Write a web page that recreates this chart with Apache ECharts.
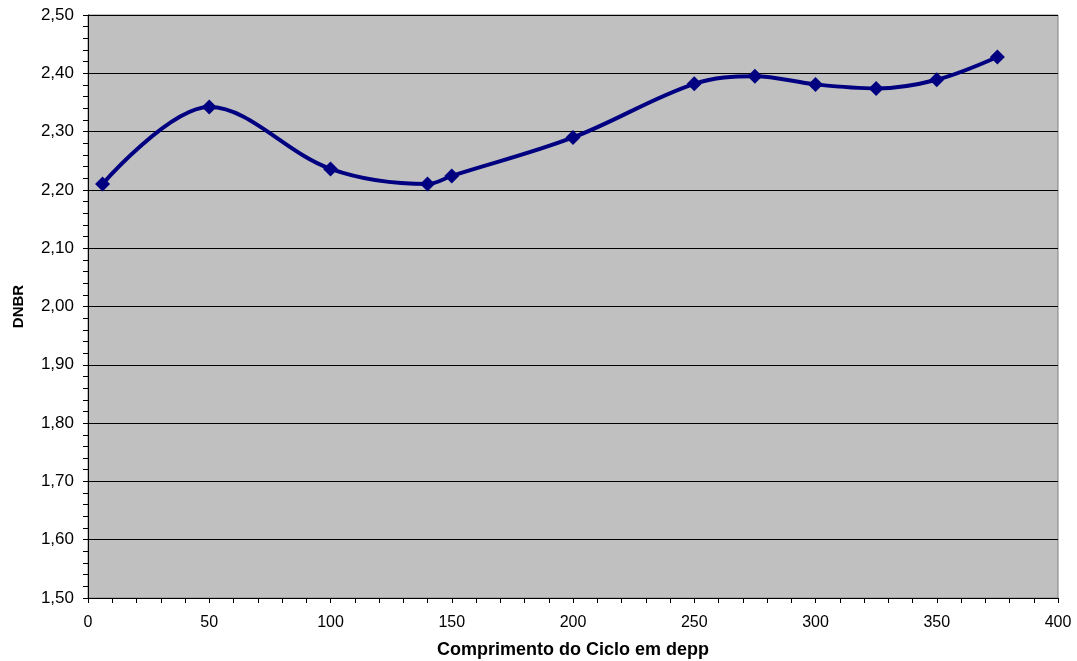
<!DOCTYPE html>
<html>
<head>
<meta charset="utf-8">
<script src="https://cdn.jsdelivr.net/npm/echarts@6/dist/echarts.min.js"></script>
<style>
  html, body { margin: 0; padding: 0; background: #ffffff; }
  #chart { width: 1077px; height: 661px; }
</style>
</head>
<body>
<div id="chart"></div>
<script>
// Cycle length (depp) and the DNBR computed at each burnup step
const cycleLength = [6, 50, 100, 140, 150, 200, 250, 275, 300, 325, 350, 375];
const dnbr = [2.210, 2.342, 2.236, 2.210, 2.224, 2.290, 2.382, 2.395, 2.381, 2.374, 2.389, 2.428];

const xTitle = 'Comprimento do Ciclo em depp';
const yTitle = 'DNBR';

const fontFamily = '"Liberation Sans", Arial, sans-serif';

const chart = echarts.init(document.getElementById('chart'), null, { renderer: 'canvas' });

chart.setOption({
  animation: false,
  backgroundColor: '#ffffff',
  grid: {
    left: 88, right: 19, top: 15, bottom: 63,
    containLabel: false,
    outerBoundsMode: 'none',
    show: true,
    backgroundColor: '#C0C0C0',
    borderColor: '#808080',
    borderWidth: 1
  },
  xAxis: {
    type: 'value',
    min: 0, max: 400, interval: 50,
    name: xTitle,
    nameLocation: 'middle',
    nameGap: 43,
    nameTextStyle: { fontFamily, fontSize: 18, fontWeight: 'bold', color: '#000' },
    axisLine: { show: true, onZero: false, lineStyle: { color: '#000', width: 1 } },
    axisTick: { show: true, length: 5, lineStyle: { color: '#000' } },
    minorTick: { show: true, splitNumber: 5, length: 5, lineStyle: { color: '#000' } },
    axisLabel: { fontFamily, fontSize: 16, color: '#000', margin: 17 },
    splitLine: { show: false }
  },
  yAxis: {
    type: 'value',
    min: 1.5, max: 2.5, interval: 0.1,
    name: yTitle,
    nameLocation: 'middle',
    nameGap: 62,
    nameRotate: 90,
    nameTextStyle: { fontFamily, fontSize: 15, fontWeight: 'bold', color: '#000' },
    axisLine: { show: true, lineStyle: { color: '#000', width: 1 } },
    axisTick: { show: true, length: 5, lineStyle: { color: '#000' } },
    minorTick: { show: true, splitNumber: 5, length: 5, lineStyle: { color: '#000' } },
    axisLabel: {
      fontFamily, fontSize: 17, color: '#000', margin: 14,
      formatter: v => v.toFixed(2).replace('.', ',')
    },
    splitLine: { show: true, lineStyle: { color: '#000', width: 1 } }
  },
  series: [{
    type: 'line',
    data: cycleLength.map((x, i) => [x, dnbr[i]]),
    smooth: 0.35,
    symbol: 'diamond',
    symbolSize: 15,
    lineStyle: { color: '#000080', width: 4 },
    itemStyle: { color: '#000080' }
  }]
});
</script>
</body>
</html>
